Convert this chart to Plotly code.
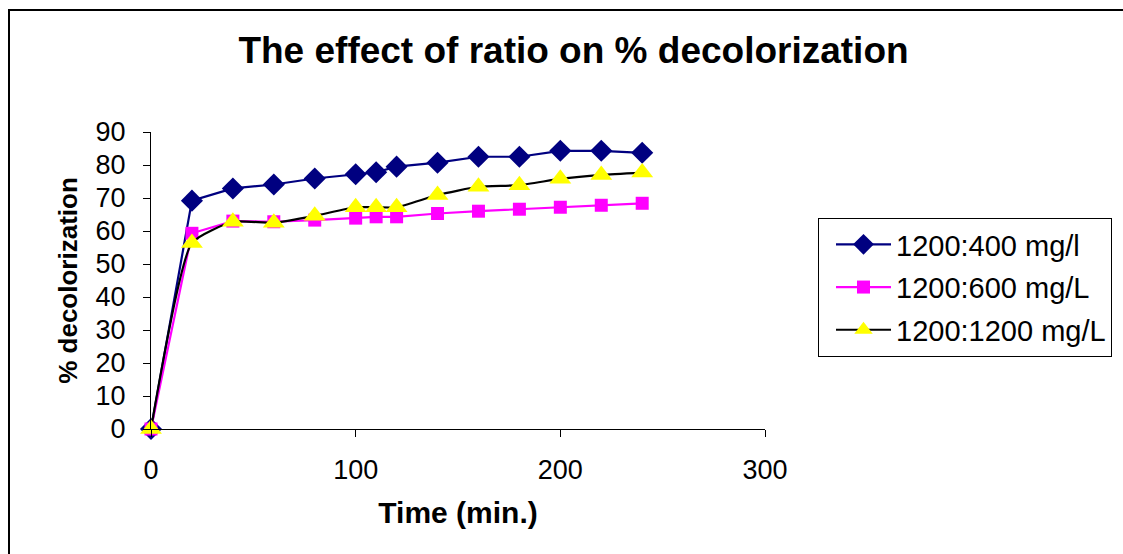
import plotly.graph_objects as go

time_min = [0, 20, 40, 60, 80, 100, 110, 120, 140, 160, 180, 200, 220, 240]
ratio_400 = [0, 69.2, 72.9, 74.1, 75.9, 77.2, 77.8, 79.5, 80.7, 82.5, 82.5, 84.3, 84.3, 83.7]
ratio_600 = [0, 59.3, 63.0, 62.8, 63.3, 63.9, 64.3, 64.3, 65.3, 66.0, 66.6, 67.2, 67.8, 68.4]
ratio_1200 = [0, 56.4, 62.8, 62.5, 64.6, 67.2, 67.2, 67.2, 70.9, 73.4, 73.9, 75.8, 77.0, 77.7]
names = ["1200:400 mg/l", "1200:600 mg/L", "1200:1200 mg/L"]

FONT = "Arial, Liberation Sans, sans-serif"
W, H = 1123, 554
L, R, T, B = 151, W - 765, 132, H - 429
PW, PH = W - L - R, H - T - B

fig = go.Figure()
fig.add_trace(go.Scatter(
    x=time_min, y=ratio_400, name=names[0], mode="lines+markers", legendgroup="a",
    cliponaxis=False,
    line=dict(color="#000080", width=2.2),
    marker=dict(symbol="diamond", size=17, color="#000080"),
))
fig.add_trace(go.Scatter(
    x=time_min, y=ratio_600, name=names[1], mode="lines+markers", legendgroup="b",
    cliponaxis=False,
    line=dict(color="#FF00FF", width=2.2),
    marker=dict(symbol="square", size=13, color="#FF00FF"),
))
fig.add_trace(go.Scatter(
    x=time_min, y=ratio_1200, name=names[2], mode="lines+markers", legendgroup="c",
    cliponaxis=False,
    line=dict(color="#000000", width=2.2, shape="spline", smoothing=0.5),
    marker=dict(symbol="triangle-up", size=19, color="#FFFF00"),
))

def px(x):
    return (x - L) / PW

def py(y):
    return (H - B - y) / PH

fig.add_shape(type="rect", xref="paper", yref="paper",
              x0=px(9), x1=px(W + 20), y0=py(H + 20), y1=py(10),
              line=dict(color="black", width=2), fillcolor="rgba(0,0,0,0)", layer="below")

fig.update_layout(
    width=W, height=H,
    margin=dict(l=L, r=R, t=T, b=B, pad=0, autoexpand=False),
    paper_bgcolor="white", plot_bgcolor="white",
    font=dict(family=FONT, color="black", size=24),
    title=dict(text="<b>The effect of ratio on % decolorization</b>",
               x=573.5 / W, xref="container", xanchor="center",
               y=1 - 50 / H, yref="container", yanchor="middle",
               font=dict(size=37, family=FONT, color="black")),
    xaxis=dict(range=[0, 300], tickvals=[0, 100, 200, 300], showgrid=False, zeroline=False,
               showline=True, linecolor="black", linewidth=1,
               ticks="outside", ticklen=7, tickcolor="black", ticklabelstandoff=10,
               tickfont=dict(size=27),
               title=dict(text="<b>Time (min.)</b>", font=dict(size=30), standoff=17)),
    yaxis=dict(range=[0, 90], dtick=10, showgrid=False, zeroline=False,
               showline=True, linecolor="black", linewidth=1,
               ticks="outside", ticklen=7, tickcolor="black", ticklabelstandoff=12,
               tickfont=dict(size=27),
               title=dict(text="<b>% decolorization</b>", font=dict(size=26), standoff=10)),
    showlegend=True,
    legend=dict(x=px(818), y=py(218), xanchor="left", yanchor="top",
                bordercolor="black", borderwidth=1, bgcolor="white",
                font=dict(size=29, family=FONT), tracegroupgap=2,
                itemwidth=55, indentation=12),
)

fig.write_html("out.html")
